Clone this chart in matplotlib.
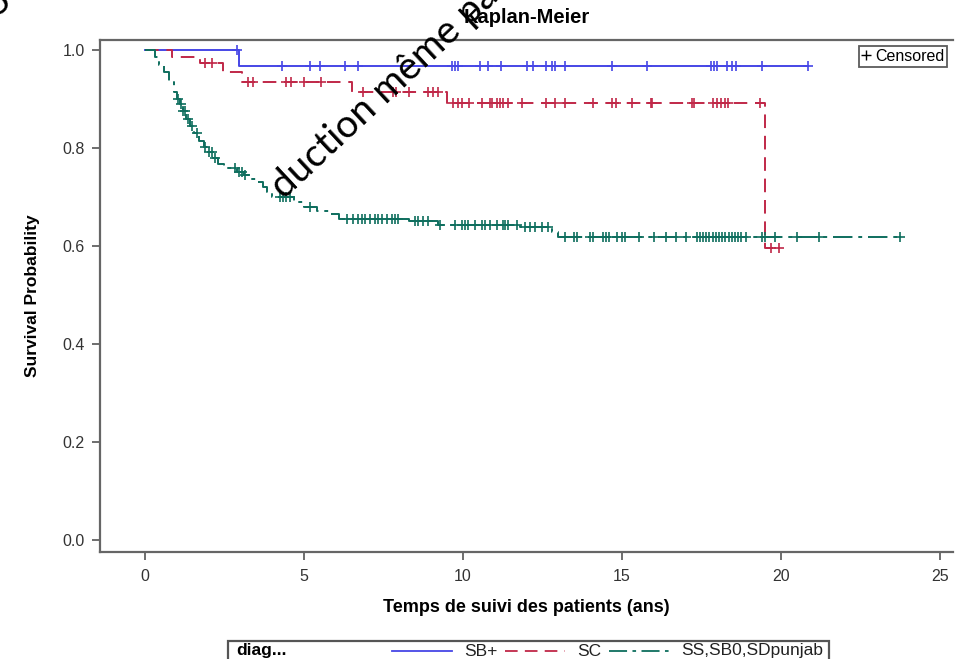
import matplotlib.pyplot as plt
from matplotlib.lines import Line2D
from matplotlib.patches import Rectangle

plt.rcParams['font.family'] = ['Liberation Sans', 'DejaVu Sans']

groups = ['SB+', 'SC', 'SS,SB0,SDpunjab']
colors = ['#4646e6', '#c02848', '#0e6e5e']

# SB+ : event times and survival after each event, censored times
sb_times = [2.95]
sb_surv = [0.968]
sb_cens = [2.9, 4.3, 5.2, 5.5, 6.3, 6.7, 9.65, 9.75, 9.85, 10.55, 10.8, 11.2,
           12.0, 12.2, 12.6, 12.8, 12.9, 13.2, 14.7, 15.8, 17.8, 17.9, 18.0,
           18.3, 18.45, 18.6, 19.4, 20.85]

# SC
sc_times = [0.85, 1.73, 2.46, 3.05, 6.5, 9.5, 19.5]
sc_surv = [0.986, 0.973, 0.955, 0.935, 0.914, 0.892, 0.595]
sc_cens = [1.9, 2.1, 3.25, 3.4, 4.45, 4.6, 5.0, 5.55, 6.85, 7.8, 7.9, 8.3,
           8.9, 9.05, 9.2, 9.7, 9.85, 9.97, 10.2, 10.6, 10.85, 10.9, 11.06,
           11.17, 11.26, 11.4, 11.85, 12.6, 12.9, 13.2, 14.1, 14.7, 14.8,
           15.3, 15.9, 15.95, 17.2, 17.25, 17.85, 17.98, 18.1, 18.24, 18.33,
           19.35, 19.7, 19.95]

# SS,SB0,SDpunjab
ss_times = [0.3, 0.45, 0.6, 0.75, 0.9, 1.0, 1.1, 1.2, 1.3, 1.42, 1.55, 1.7,
            1.85, 2.0, 2.15, 2.3, 2.5, 2.9, 3.1, 3.3, 3.5, 3.7, 3.85, 4.0,
            4.7, 5.0, 5.4, 5.8, 6.1, 8.3, 9.2, 11.8, 12.8, 13.0]
ss_surv = [0.985, 0.97, 0.955, 0.935, 0.915, 0.9, 0.89, 0.875, 0.86, 0.845,
           0.83, 0.815, 0.803, 0.792, 0.78, 0.768, 0.76, 0.752, 0.745, 0.737,
           0.73, 0.72, 0.71, 0.70, 0.69, 0.68, 0.672, 0.665, 0.655, 0.65,
           0.643, 0.638, 0.628, 0.618]
ss_cens = [1.05, 1.12, 1.2, 1.26, 1.35, 1.48, 1.63, 1.9, 2.0, 2.1, 2.2, 2.83,
           2.95, 3.05, 3.14, 4.25, 4.35, 4.45, 4.56, 5.2, 6.35, 6.54, 6.7,
           6.82, 6.92, 7.08, 7.23, 7.33, 7.45, 7.61, 7.77, 7.86, 7.96, 8.5,
           8.6, 8.74, 8.9, 9.28, 9.75, 9.97, 10.06, 10.16, 10.38, 10.6, 10.7,
           10.85, 11.07, 11.26, 11.32, 11.4, 11.7, 11.95, 12.1, 12.26, 12.5,
           12.67, 13.2, 13.5, 13.6, 14.0, 14.1, 14.4, 14.5, 14.6, 14.85, 15.0,
           15.1, 15.55, 16.0, 16.4, 16.7, 17.0, 17.35, 17.45, 17.55, 17.65,
           17.75, 17.85, 17.95, 18.05, 18.15, 18.25, 18.35, 18.45, 18.55,
           18.65, 18.75, 18.9, 19.4, 19.5, 19.8, 20.5, 21.2, 23.75]

styles = ['-', (0, (7, 4)), (0, (10, 3, 2, 3))]


def level_at(times, surv, t):
    s = 1.0
    for ti, si in zip(times, surv):
        if ti <= t:
            s = si
    return s


fig = plt.figure(figsize=(9.55, 6.59), dpi=100)
ax = fig.add_axes([100 / 955, 1 - 552 / 659, 853 / 955, 512 / 659])

data = [(sb_times, sb_surv, sb_cens), (sc_times, sc_surv, sc_cens),
        (ss_times, ss_surv, ss_cens)]
for (times, surv, cens), col, ls in zip(data, colors, styles):
    end = max(cens + times)
    xs = [0] + times + [end]
    ys = [1.0] + surv + [surv[-1]]
    ax.step(xs, ys, where='post', color=col, lw=1.4, linestyle=ls)
    ax.plot(cens, [level_at(times, surv, t) for t in cens], ls='none',
            marker='+', color=col, markersize=7, mew=1.2)

ax.set_xlim(-1.415, 25.41)
ax.set_ylim(-0.0245, 1.0204)
ax.set_xticks([0, 5, 10, 15, 20, 25])
ax.set_yticks([0.0, 0.2, 0.4, 0.6, 0.8, 1.0])
ax.set_yticklabels(['0.0', '0.2', '0.4', '0.6', '0.8', '1.0'])
ax.tick_params(direction='out', length=6, width=1.2, color='#555555',
               labelsize=11.5, labelcolor='#333333')
ax.tick_params(axis='x', pad=6)
ax.tick_params(axis='y', pad=5)
for side in ['left', 'bottom', 'top']:
    ax.spines[side].set_color('#666666')
    ax.spines[side].set_linewidth(1.6)
ax.spines['right'].set_visible(False)

ax.set_title('Kaplan-Meier', fontsize=14.5, fontweight='bold', pad=12)
ax.set_xlabel('Temps de suivi des patients (ans)', fontsize=13,
              fontweight='bold', labelpad=11)
ax.set_ylabel('Survival Probability', fontsize=12.5, fontweight='bold',
              labelpad=16)

cens_handle = Line2D([], [], marker='+', color='black', ls='none',
                     markersize=7, mew=1)
leg = ax.legend([cens_handle], ['Censored'], loc='upper right',
                frameon=True, fancybox=False, edgecolor='#333333',
                handlelength=0.5, handletextpad=0.3, borderpad=0.2,
                fontsize=11.5, borderaxespad=0.35)
leg.get_frame().set_linewidth(1.3)

# group legend along the bottom edge
fig.add_artist(Rectangle((228 / 955, -0.02), 601 / 955, 0.02 + 1 - 641 / 659,
                         transform=fig.transFigure, fill=False,
                         edgecolor='#555555', lw=1.6))
ly = 1 - 651 / 659
fig.text(236 / 955, ly, 'diag...', fontsize=12.5, fontweight='bold',
         va='center', ha='left')
seg = [(392, 452, 464), (505, 565, 577), (609, 669, 681)]
for (x0, x1, xt), name, col, ls in zip(seg, groups, colors, styles):
    fig.add_artist(Line2D([x0 / 955, x1 / 955], [ly, ly],
                          transform=fig.transFigure, color=col, lw=1.3,
                          linestyle=ls))
    fig.text(xt / 955, ly, name, fontsize=12.5, va='center', ha='left',
             color='#222222')

# watermark
fig.text(284 / 955, 1 - 200 / 659, 'duction même pa', rotation=43,
         rotation_mode='anchor', ha='left', va='baseline', fontsize=28,
         family=['Lato', 'DejaVu Sans'], color='black', zorder=10)
fig.text(-4 / 955, 1 - 18 / 659, 'o', rotation=43, rotation_mode='anchor',
         ha='left', va='baseline', fontsize=28,
         family=['Lato', 'DejaVu Sans'], color='black', zorder=10)

fig.savefig('out.png', dpi=100)
